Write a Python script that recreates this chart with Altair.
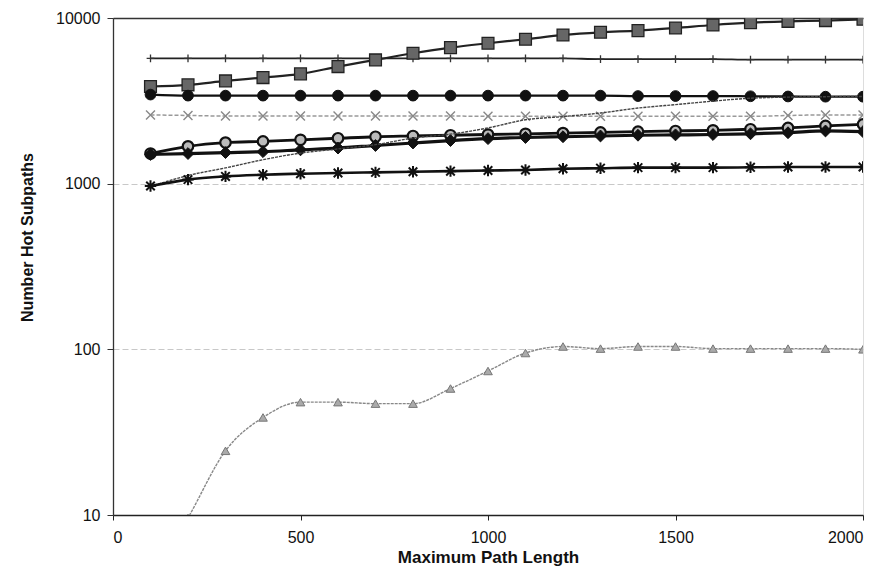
import altair as alt
import pandas as pd

# ---------------- data ----------------
x_vals = [100, 200, 300, 400, 500, 600, 700, 800, 900, 1000,
          1100, 1200, 1300, 1400, 1500, 1600, 1700, 1800, 1900, 2000]

plus_vals = [5700, 5700, 5700, 5700, 5700, 5700, 5700, 5700, 5700, 5700,
             5700, 5700, 5650, 5650, 5650, 5650, 5600, 5600, 5600, 5600]
square_vals = [3860, 3950, 4170, 4370, 4600, 5090, 5585, 6125, 6625, 7040,
               7440, 7900, 8200, 8390, 8700, 9075, 9370, 9550, 9650, 9820]
circle_vals = [3450, 3400, 3400, 3400, 3400, 3400, 3400, 3400, 3400, 3400,
               3400, 3400, 3400, 3380, 3380, 3380, 3370, 3360, 3350, 3350]
xmark_vals = [2600, 2580, 2560, 2560, 2560, 2560, 2560, 2560, 2560, 2550,
              2550, 2550, 2550, 2550, 2550, 2550, 2550, 2580, 2600, 2600]
opencircle_vals = [1520, 1680, 1770, 1800, 1840, 1880, 1920, 1940, 1960, 1980,
                   2000, 2020, 2040, 2060, 2080, 2100, 2130, 2170, 2230, 2280]
diamond_vals = [1500, 1520, 1540, 1560, 1600, 1640, 1700, 1760, 1820, 1870,
                1900, 1920, 1940, 1960, 1970, 1980, 2000, 2030, 2080, 2060]
rising_vals = [960, 1120, 1245, 1395, 1530, 1620, 1720, 1885, 1990, 2170,
               2430, 2540, 2670, 2860, 3000, 3150, 3280, 3330, 3350, 3360]
asterisk_vals = [968, 1058, 1106, 1133, 1148, 1160, 1170, 1180, 1190, 1200,
                 1210, 1230, 1240, 1250, 1250, 1250, 1255, 1260, 1260, 1260]
triangle_vals = [4, 9.6, 24.4, 38.8, 48, 48, 47, 47, 58, 74,
                 95, 104, 101, 104, 104, 101, 101, 101, 101, 100]

x_ticks = [0, 500, 1000, 1500, 2000]
y_ticks = [10, 100, 1000, 10000]

# ---------------- styling ----------------
PLUS = "M-1,0L1,0M0,-1L0,1"
XSHAPE = "M-1,-1L1,1M-1,1L1,-1"
ASTER = "M-1,0L1,0M0,-1L0,1M-0.75,-0.75L0.75,0.75M-0.75,0.75L0.75,-0.75"

styles = [
    # name, values, line color, line width, dash, shape, size, filled, fill, stroke, marker stroke width
    ("plus", plus_vals, "#222", 1.8, [], PLUS, 60, False, None, "#333", 1.3),
    ("square", square_vals, "#222", 2.2, [], "square", 140, True, "#666", "#222", 1.3),
    ("circle", circle_vals, "#111", 2.2, [], "circle", 115, True, "#111", "#111", 1.0),
    ("xmark", xmark_vals, "#999", 1.5, [4, 2], XSHAPE, 80, False, None, "#888", 1.4),
    ("opencircle", opencircle_vals, "#111", 2.8, [], "circle", 110, True, "#bbb", "#111", 2.2),
    ("diamond", diamond_vals, "#111", 3.2, [], "diamond", 140, True, "#111", "#111", 1.0),
    ("rising", rising_vals, "#444", 1.4, [3, 1], None, 0, False, None, None, 0),
    ("asterisk", asterisk_vals, "#111", 2.6, [], ASTER, 130, False, None, "#111", 2.0),
    ("triangle", triangle_vals, "#888", 1.4, [3, 1], "triangle-up", 75, True, "#aaa", "#777", 1.0),
]

xscale = alt.Scale(domain=[0, 2000], nice=False, zero=False)
yscale = alt.Scale(type="log", domain=[10, 10000], nice=False)

FONT = "Liberation Sans"

xaxis = alt.Axis(
    values=x_ticks, format="d", title="Maximum Path Length", grid=False,
    domainColor="#222", domainWidth=1.3, tickColor="#222", tickSize=5,
    labelFont=FONT, labelFontSize=16, labelColor="#111", labelPadding=9,
    titleFont=FONT, titleFontSize=17, titleFontWeight="bold", titleColor="#111",
    titlePadding=4,
)
yaxis = alt.Axis(
    values=y_ticks, format="d", title="Number Hot Subpaths",
    grid=True,
    gridColor={"condition": {"test": "datum.value == 10000", "value": "#333"}, "value": "#c8c8c8"},
    gridDash={"condition": {"test": "datum.value == 10000", "value": []}, "value": [6, 3]},
    gridWidth={"condition": {"test": "datum.value == 10000", "value": 1.4}, "value": 1},
    domainColor="#333", domainWidth=1.3, tickColor="#333", tickSize=6,
    labelFont=FONT, labelFontSize=16, labelColor="#111", labelPadding=7,
    titleFont=FONT, titleFontSize=16, titleFontWeight="bold", titleColor="#111",
    titleX=-86, titleY=219, titleBaseline="middle", titleAngle=270,
)

layers = []
for name, vals, lc, lw, dash, shape, size, filled, fill, stroke, msw in styles:
    df = pd.DataFrame({"x": x_vals, "y": vals, "series": name})
    base = alt.Chart(df)
    enc = dict(x=alt.X("x:Q", scale=xscale, axis=xaxis),
               y=alt.Y("y:Q", scale=yscale, axis=yaxis))
    line_kwargs = dict(color=lc, strokeWidth=lw, interpolate="monotone", clip=True)
    if dash:
        line_kwargs["strokeDash"] = dash
    layers.append(base.mark_line(**line_kwargs).encode(**enc))
    if shape is not None:
        pk = dict(shape=shape, size=size, filled=filled, stroke=stroke,
                  strokeWidth=msw, opacity=1, clip=True)
        if filled:
            pk["fill"] = fill
        layers.append(base.mark_point(**pk).encode(**enc))

chart = alt.layer(*layers).properties(
    width=750, height=497,
    autosize=alt.AutoSizeParams(type="none"),
    padding={"left": 105, "top": 10, "right": 20, "bottom": 60},
).configure_view(stroke=None).configure(background="white")

chart.save("out.html", embed_options={"renderer": "svg", "actions": False})
